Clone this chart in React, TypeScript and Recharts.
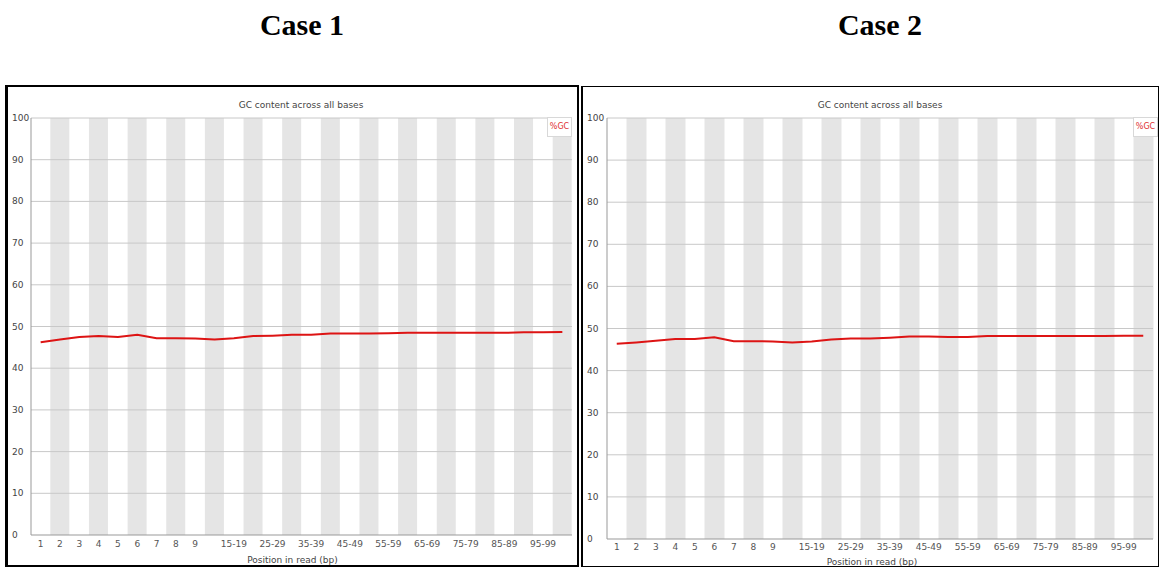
import React from 'react';
import {
  ComposedChart, Line, Bar, XAxis, YAxis, ReferenceLine, Legend,
} from 'recharts';

const categories = ['1', '2', '3', '4', '5', '6', '7', '8', '9', '10-14', '15-19', '20-24', '25-29', '30-34', '35-39', '40-44', '45-49', '50-54', '55-59', '60-64', '65-69', '70-74', '75-79', '80-84', '85-89', '90-94', '95-99', '100-101'];
const shownTicks = ['1', '2', '3', '4', '5', '6', '7', '8', '9', '15-19', '25-29', '35-39', '45-49', '55-59', '65-69', '75-79', '85-89', '95-99'];
const case1GC = [46.2, 46.9, 47.5, 47.7, 47.5, 48.0, 47.2, 47.2, 47.1, 46.9, 47.2, 47.7, 47.8, 48.0, 48.0, 48.3, 48.3, 48.3, 48.4, 48.5, 48.5, 48.5, 48.5, 48.5, 48.5, 48.6, 48.6, 48.7];
const case2GC = [46.4, 46.7, 47.1, 47.5, 47.5, 47.9, 47.0, 47.0, 46.9, 46.7, 46.9, 47.4, 47.6, 47.6, 47.8, 48.1, 48.1, 48.0, 48.0, 48.2, 48.2, 48.2, 48.2, 48.2, 48.2, 48.2, 48.3, 48.3];
const yTicks = [0, 10, 20, 30, 40, 50, 60, 70, 80, 90, 100];
const panelTitles = ['Case 1', 'Case 2'];
const chartTitle = 'GC content across all bases';
const xAxisTitle = 'Position in read (bp)';
const seriesName = '%GC';

const FONT = '"DejaVu Sans", Verdana, sans-serif';

function makeData(values: number[]) {
  // alternating background bands: every second category is shaded over the full 0-100 range
  return categories.map((c, i) => ({ pos: c, gc: values[i], band: i % 2 === 1 ? 100 : null }));
}

function makeXTick(dy: number) {
  return (props: any) => {
    const { x, y, payload } = props;
    if (!shownTicks.includes(payload.value)) return <g />;
    return (
      <text x={x} y={y} dy={dy} textAnchor="middle" fontSize={9} fontFamily={FONT} fill="#555">
        {payload.value}
      </text>
    );
  };
}

function makeYTick(labelX: number) {
  return (props: any) => {
    const { y, payload } = props;
    return (
      <text x={labelX} y={y} dy={3} textAnchor="start" fontSize={9} fontFamily={FONT} fill="#444">
        {payload.value}
      </text>
    );
  };
}

function LegendBox() {
  return (
    <div style={{
      width: 25, height: 20, boxSizing: 'border-box', border: '1px solid #d8d8d8', background: '#fff',
      color: '#e03030', fontFamily: FONT, fontSize: 8, lineHeight: '18px', textAlign: 'center',
    }}>{seriesName}</div>
  );
}

interface PanelProps {
  left: number;
  values: number[];
  margin: { top: number; right: number; bottom: number; left: number };
  yLabelX: number;
  xAxisHeight: number;
  legendLeft: number;
  xTitleDx: number;
  xTitleOffset: number;
  xTickDy: number;
  titleX: number;
}

function Panel(p: PanelProps) {
  const data = makeData(p.values);
  return (
    <div style={{ position: 'absolute', left: p.left, top: 0, width: 580, height: 568 }}>
      <div style={{
        position: 'absolute', left: p.titleX - 100, top: 99, width: 200, textAlign: 'center',
        fontFamily: FONT, fontSize: 9, color: '#444', lineHeight: '12px',
      }}>{chartTitle}</div>
      <ComposedChart width={580} height={568} data={data} margin={p.margin} barCategoryGap={0} barGap={0}>
        <XAxis
          dataKey="pos"
          type="category"
          interval={0}
          height={p.xAxisHeight}
          tick={makeXTick(p.xTickDy)}
          tickLine={false}
          axisLine={{ stroke: '#999' }}
          label={{ value: xAxisTitle, position: 'insideBottom', offset: p.xTitleOffset, dx: p.xTitleDx, fontSize: 9, fontFamily: FONT, fill: '#444' }}
        />
        <YAxis
          type="number"
          domain={[0, 100]}
          ticks={yTicks}
          width={25}
          tick={makeYTick(p.yLabelX)}
          tickLine={false}
          axisLine={{ stroke: '#999' }}
        />
        <Bar dataKey="band" fill="#e5e5e5" isAnimationActive={false} legendType="none" />
        {yTicks.filter((t) => t > 0).map((t) => (
          <ReferenceLine key={t} y={t} stroke="#c8c8c8" strokeWidth={1} />
        ))}
        <Legend
          layout="horizontal"
          verticalAlign="middle"
          align="center"
          wrapperStyle={{ position: 'absolute', top: 117, left: p.legendLeft, width: 25, height: 20 }}
          content={() => <LegendBox />}
        />
        <Line
          type="linear"
          dataKey="gc"
          name={seriesName}
          stroke="#dd1414"
          strokeWidth={2}
          dot={false}
          isAnimationActive={false}
        />
      </ComposedChart>
    </div>
  );
}

const headingStyle: React.CSSProperties = {
  position: 'absolute', top: 9, width: 200, textAlign: 'center',
  fontFamily: '"Liberation Serif", "Times New Roman", serif', fontWeight: 'bold', fontSize: 30, lineHeight: '32px', color: '#000',
};

export default function App() {
  return (
    <div style={{ position: 'absolute', left: 0, top: 0, width: 1161, height: 568, background: '#fff', overflow: 'hidden' }}>
      <div style={{ ...headingStyle, left: 202 }}>{panelTitles[0]}</div>
      <div style={{ ...headingStyle, left: 780 }}>{panelTitles[1]}</div>

      <Panel
        left={0}
        values={case1GC}
        margin={{ top: 118, right: 8, left: 6, bottom: 3 }}
        yLabelX={12}
        xAxisHeight={30}
        legendLeft={547}
        xTitleDx={-9}
        xTitleOffset={2}
        xTickDy={4}
        titleX={301}
      />
      <Panel
        left={580}
        values={case2GC}
        margin={{ top: 118, right: 7, left: 2, bottom: 1 }}
        yLabelX={7}
        xAxisHeight={28}
        legendLeft={553}
        xTitleDx={-8}
        xTitleOffset={2}
        xTickDy={3}
        titleX={300}
      />

      <div style={{
        position: 'absolute', left: 5, top: 85, width: 574, height: 482, boxSizing: 'border-box',
        borderTop: '2px solid #000', borderLeft: '3px solid #000', borderRight: '2px solid #000', borderBottom: '2px solid #000',
        pointerEvents: 'none',
      }} />
      <div style={{
        position: 'absolute', left: 581, top: 86, width: 578, height: 481, boxSizing: 'border-box',
        borderTop: '1px solid #000', borderLeft: '2px solid #000', borderRight: '1px solid #000', borderBottom: '1px solid #000',
        pointerEvents: 'none',
      }} />
    </div>
  );
}
